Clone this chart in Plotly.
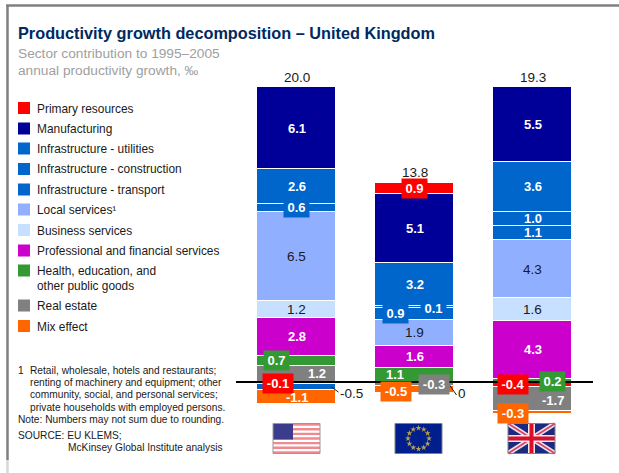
import math
import plotly.graph_objects as go

W, H = 619, 473
FONT = "Liberation Sans"

countries = ["United States", "EU-15", "United Kingdom"]
totals = ["20.0", "13.8", "19.3"]
sectors = ["Primary resources", "Manufacturing", "Infrastructure - utilities",
           "Infrastructure - construction", "Infrastructure - transport",
           "Local services", "Business services",
           "Professional and financial services",
           "Health, education, and public goods", "Real estate", "Mix effect"]
primary = [-0.15, 0.85, -0.40]
manufacturing = [6.03, 5.07, 5.51]
utilities = [2.57, 3.16, 3.65]
construction = [0.59, 0.10, 1.03]
transport = [-0.45, 0.88, 1.05]
local_services = [6.54, 1.91, 4.27]
business = [1.25, 0.0, 1.65]
professional = [2.79, 1.62, 4.27]
health = [0.74, 1.05, 0.25]
real_estate = [1.18, -0.29, -1.70]
mix_effect = [-1.05, -0.51, -0.28]
values = [primary, manufacturing, utilities, construction, transport, local_services,
          business, professional, health, real_estate, mix_effect]

label_primary = ["-0.1", "0.9", "-0.4"]
label_manufacturing = ["6.1", "5.1", "5.5"]
label_utilities = ["2.6", "3.2", "3.6"]
label_construction = ["0.6", "0.1", "1.0"]
label_transport = ["-0.5", "0.9", "1.1"]
label_local = ["6.5", "1.9", "4.3"]
label_business = ["1.2", "0", "1.6"]
label_professional = ["2.8", "1.6", "4.3"]
label_health = ["0.7", "1.1", "0.2"]
label_real_estate = ["1.2", "-0.3", "-1.7"]
label_mix = ["-1.1", "-0.5", "-0.3"]
labels = [label_primary, label_manufacturing, label_utilities, label_construction,
          label_transport, label_local, label_business, label_professional,
          label_health, label_real_estate, label_mix]

legend_text = ["Primary resources", "Manufacturing", "Infrastructure - utilities",
               "Infrastructure - construction", "Infrastructure - transport",
               "Local services¹", "Business services",
               "Professional and financial services",
               "Health, education, and<br>other public goods", "Real estate", "Mix effect"]

colors = ["#FF0000", "#000099", "#0066CC", "#0066CC", "#0066CC", "#91AFFF", "#C8E0FF",
          "#CC00CC", "#339933", "#808080", "#FF6600"]
legend_rows = [108, 128.5, 148.5, 169, 189.5, 209.5, 230, 250.5, 270.5, 305.5, 326]

# label styling: (sector index, country index) -> dx, dy (px, down positive), box width
SMALL = 23
WIDE = 28
style = {
    (3, 0): (0, 0, SMALL), (8, 0): (-20, 0, SMALL), (9, 0): (20, 0, None),
    (0, 0): (-19, 0, WIDE), (4, 0): (55, 6, None),
    (0, 1): (0, 0, SMALL), (3, 1): (19, 1, SMALL), (4, 1): (-19, 0, SMALL),
    (8, 1): (-20, 0, None), (9, 1): (19, 1, WIDE), (10, 1): (-19, 2, WIDE), (6, 1): (47, 11, None),
    (8, 2): (20, 1, SMALL), (0, 2): (-20, 0, WIDE), (9, 2): (20, 1, None), (10, 2): (-20, 1, WIDE),
}
dark_text = {5, 6}
outside = {(4, 0), (6, 1)}
BOLD_SIZE = 13
PLAIN_SIZE = 13.5

ZERO_PX = 382.0
PX_PER_UNIT = 13.6
X0_PX, PITCH = 296.5, 118.0
y_range = [(ZERO_PX - H) / PX_PER_UNIT, ZERO_PX / PX_PER_UNIT]
x_range = [-X0_PX / PITCH, (W - X0_PX) / PITCH]

fx = lambda px: px / W
fy = lambda py: 1 - py / H

fig = go.Figure()


def add_bar(i, vals):
    fig.add_trace(go.Bar(x=[0, 1, 2], y=vals, name=sectors[i], width=79 / PITCH,
                         marker=dict(color=colors[i], line=dict(color="white", width=1)),
                         showlegend=False, hoverinfo="skip"))


for i in reversed(range(len(sectors))):
    add_bar(i, [v if v > 0 else None for v in values[i]])
for i in range(len(sectors)):
    add_bar(i, [v if v < 0 else None for v in values[i]])

ann = []
shapes = []


def text(px, py, s, size=12, color="#1a1a1a", anchor="left", bold=False):
    ann.append(dict(x=fx(px - 2), y=fy(py), xref="paper", yref="paper", text=f"<b>{s}</b>" if bold else s,
                    showarrow=False, xanchor=anchor, yanchor="middle", align="left",
                    font=dict(family=FONT, size=size, color=color)))


def rect(x0, y0, x1, y1, fill, line=None):
    shapes.append(dict(type="rect", xref="paper", yref="paper", x0=fx(x0), x1=fx(x1),
                       y0=fy(y0), y1=fy(y1), fillcolor=fill, layer="below",
                       line=dict(color=line or fill, width=1 if line else 0)))


def seg(x0, y0, x1, y1, color, width):
    shapes.append(dict(type="line", xref="paper", yref="paper", x0=fx(x0), x1=fx(x1), layer="below",
                       y0=fy(y0), y1=fy(y1), line=dict(color=color, width=width)))


def bar_label(c, s, mid, plain, box, dx, dy):
    ann.append(dict(x=c, y=mid, xref="x", yref="y", xshift=dx, yshift=-dy, showarrow=False,
                    text=labels[s][c] if plain else f"<b>{labels[s][c]}</b>",
                    font=dict(family=FONT, size=PLAIN_SIZE if plain else BOLD_SIZE,
                              color="#1a1a1a" if plain else "white"),
                    bgcolor=colors[s] if box else None,
                    width=box, height=17 if box else None))


# bar labels, positioned from the stacked values
for c in range(3):
    pos = neg = 0.0
    for s in reversed(range(len(sectors))):
        v = values[s][c]
        if v > 0:
            mid = pos + v / 2
            pos += v
            dx, dy, box = style.get((s, c), (0, 0, None))
            bar_label(c, s, mid, s in dark_text, box, dx, dy)
    ann.append(dict(x=c, y=pos, xref="x", yref="y", yshift=10, showarrow=False, text=totals[c],
                    font=dict(family=FONT, size=PLAIN_SIZE, color="#1a1a1a")))
    for s in range(len(sectors)):
        v = values[s][c]
        if v <= 0:
            mid = neg + v / 2
            neg += v
            dx, dy, box = style.get((s, c), (0, 0, None))
            out = (s, c) in outside
            bar_label(c, s, mid, out, box, dx, dy)
            if out:
                y_off = (0, -5) if c == 0 else (-3, -13)
                shapes.append(dict(type="line", xref="x", yref="y", xsizemode="pixel", ysizemode="pixel",
                                   xanchor=c, yanchor=mid, x0=35, x1=42, y0=y_off[0], y1=y_off[1],
                                   line=dict(color="#1a1a1a", width=1)))

# frame
seg(6, 5.5, W, 5.5, "#808080", 2.5)
seg(7.5, 5, 7.5, 460, "#808080", 2.5)
seg(7.5, 460, 7.5, H, "#D8D8D8", 2.5)

# zero line
shapes.append(dict(type="line", xref="paper", yref="y", x0=fx(236), x1=fx(593), y0=0, y1=0,
                   line=dict(color="black", width=2)))

# title and texts
text(18, 32.5, "Productivity growth decomposition – United Kingdom", 16.3, "#002960", bold=True)
text(18, 54, "Sector contribution to 1995–2005", 13.7, "#A0A0A0")
text(18, 70.5, "annual productivity growth, ‰", 13.7, "#A0A0A0")

for name, row, col in zip(legend_text, legend_rows, colors):
    rect(18, row - 6, 30, row + 6, col)
    if "<br>" in name:
        a, b = name.split("<br>")
        text(37, row + 0.5, a, 11.9)
        text(37, row + 15.5, b, 11.9)
    else:
        text(37, row + 0.5, name, 11.9)

foot = [(18, 370.5, "1"), (30, 370.5, "Retail, wholesale, hotels and restaurants;"),
        (30, 382.5, "renting of machinery and equipment; other"),
        (30, 394.5, "community, social, and personal services;"),
        (30, 407, "private households with employed persons."),
        (18, 419.5, "Note: Numbers may not sum due to rounding."),
        (18, 435, "SOURCE: EU KLEMS;"), (68, 447.5, "McKinsey Global Institute analysis")]
for x, y, s in foot:
    text(x, y, s, 10.2)

# flags
FT, FB = 423.5, 453.5
# United States
rect(273, FT, 320, FB, "#FFFFFF")
for k in range(7):
    y = FT + k * (FB - FT) / 6.5
    rect(273, y, 320, min(y + 2.3, FB), "#F08A90")
rect(273, FT, 293, FT + 16, "#3C3C8C")
rect(273, FT, 320, FB, "rgba(0,0,0,0)", "#999999")
# EU
rect(395, FT, 442, FB, "#001F8C", "#808080")
# UK
rect(508, FT, 555, FB, "#1A2A80")
for a, b in (((508, FT), (555, FB)), ((508, FB), (555, FT))):
    seg(a[0], a[1], b[0], b[1], "#F0E0E8", 5)
    seg(a[0], a[1], b[0], b[1], "#D84060", 1.5)
rect(528, FT, 535, FB, "#F5E5E5")
rect(508, 435, 555, 442, "#F5E5E5")
rect(529.5, FT, 533.5, FB, "#D8102C")
rect(508, 436.5, 555, 440.5, "#D8102C")
rect(508, FT, 555, FB, "rgba(0,0,0,0)", "#808080")

star_x = []
star_y = []
for k in range(12):
    a = 2 * math.pi * k / 12
    star_x.append((418.5 + 10.5 * math.cos(a) - X0_PX) / PITCH)
    star_y.append((ZERO_PX - (438.5 + 10.5 * math.sin(a))) / PX_PER_UNIT)
fig.add_trace(go.Scatter(x=star_x, y=star_y, mode="markers", showlegend=False, hoverinfo="skip",
                         marker=dict(symbol="star", size=4.5, color="#B8A050", line=dict(width=0))))

fig.update_layout(
    width=W, height=H, margin=dict(l=0, r=0, t=0, b=0, pad=0),
    paper_bgcolor="white", plot_bgcolor="white", barmode="relative", bargap=0,
    xaxis=dict(visible=False, range=x_range, fixedrange=True),
    yaxis=dict(visible=False, range=y_range, fixedrange=True),
    annotations=ann, shapes=shapes,
)
fig.write_html("out.html", config={"displayModeBar": False},
               post_script="document.body.style.margin='0';")
